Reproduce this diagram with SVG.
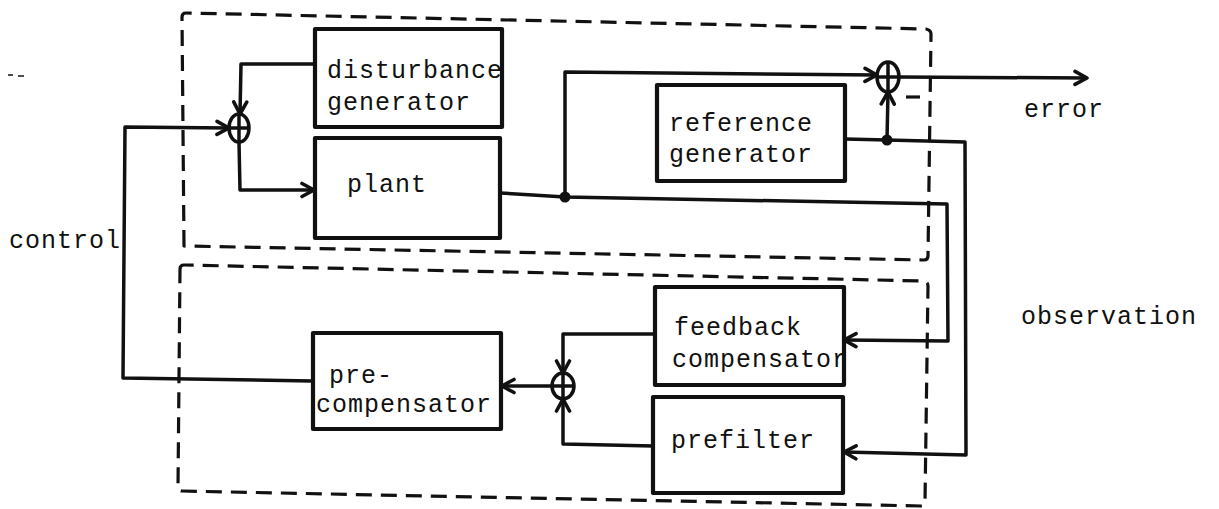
<svg xmlns="http://www.w3.org/2000/svg" width="1219" height="509" viewBox="0 0 1219 509">
<style>
.box{fill:none;stroke:#111;stroke-width:4.2;stroke-linejoin:round}
.dash{fill:none;stroke:#111;stroke-width:3.2;stroke-dasharray:16 9;stroke-linejoin:round}
.ln{fill:none;stroke:#111;stroke-width:3.5;stroke-linejoin:round}
.sum{fill:none;stroke:#111;stroke-width:3.5}
.t{font-family:"Liberation Mono","DejaVu Sans Mono",monospace;font-size:25px;letter-spacing:1px;fill:#111}
</style>
<defs>
<marker id="arr" markerUnits="userSpaceOnUse" markerWidth="18" markerHeight="18" refX="14" refY="8" orient="auto" viewBox="0 0 18 16">
<path d="M2,1.5 L14,8 L2,14.5" fill="none" stroke="#111" stroke-width="3.6" stroke-linecap="round" stroke-linejoin="round"/>
</marker>
</defs>
<rect width="1219" height="509" fill="#fff"/>
<g id="subsystem-boxes">
<path class="dash" d="M184,246 L182,17 Q182,13 186,13 L926,29 Q931,30 931,34 L928,256 Q928,260 924,260 Z"/>
<path class="dash" d="M180,269 Q180,265 184,265 L924,281 Q928,282 928,286 L925,502 Q925,506 921,506 L182,491 Q178,491 178,487 Z"/>
</g>
<g id="disturbance-generator">
<rect class="box" x="315" y="29" width="187" height="98"/>
<text class="t" x="327" y="78">disturbance</text>
<text class="t" x="327" y="110">generator</text>
</g>
<g id="plant">
<rect class="box" x="315" y="138" width="185" height="100"/>
<text class="t" x="347" y="192">plant</text>
</g>
<g id="reference-generator">
<rect class="box" x="657" y="85" width="188" height="96"/>
<text class="t" x="669" y="131">reference</text>
<text class="t" x="669" y="162">generator</text>
</g>
<g id="feedback-compensator">
<rect class="box" x="655" y="287" width="189" height="98"/>
<text class="t" x="674" y="335">feedback</text>
<text class="t" x="672" y="367">compensator</text>
</g>
<g id="prefilter">
<rect class="box" x="653" y="397" width="190" height="96"/>
<text class="t" x="671" y="448">prefilter</text>
</g>
<g id="pre-compensator">
<rect class="box" x="313" y="333" width="188" height="96"/>
<text class="t" x="329" y="383">pre-</text>
<text class="t" x="316" y="412">compensator</text>
</g>
<g id="sum1">
<ellipse class="sum" cx="239" cy="128" rx="10" ry="14"/>
<line class="ln" x1="229" y1="128" x2="249" y2="128"/>
<line class="ln" x1="239" y1="114" x2="239" y2="142"/>
</g>
<g id="sum2">
<ellipse class="sum" cx="888" cy="77" rx="11" ry="15"/>
<line class="ln" x1="888" y1="62" x2="888" y2="92"/>
<line class="ln" x1="877" y1="77" x2="899" y2="77"/>
<line x1="906" y1="97" x2="920" y2="97" stroke="#111" stroke-width="3.2"/>
</g>
<g id="sum3">
<ellipse class="sum" cx="563" cy="386" rx="11" ry="13"/>
<line class="ln" x1="552" y1="386" x2="574" y2="386"/>
<line class="ln" x1="563" y1="373" x2="563" y2="399"/>
</g>
<g id="connectors">
<path class="ln" d="M315,64 L241,64 L240,114" marker-end="url(#arr)"/>
<path class="ln" d="M239,142 L240,190 L314,190" marker-end="url(#arr)"/>
<path class="ln" d="M312,381 L123,378 L125,127 L229,128" marker-end="url(#arr)"/>
<path class="ln" d="M500,193 L565,197 L947,204 L948,341 L844,340" marker-end="url(#arr)"/>
<path class="ln" d="M565,197 L565,72 L877,75" marker-end="url(#arr)"/>
<path class="ln" d="M899,77 L1087,78" marker-end="url(#arr)"/>
<path class="ln" d="M845,139 L887,140 L965,142 L966,455 L844,452" marker-end="url(#arr)"/>
<path class="ln" d="M887,140 L888,92" marker-end="url(#arr)"/>
<path class="ln" d="M655,334 L563,334 L563,373" marker-end="url(#arr)"/>
<path class="ln" d="M653,446 L563,444 L563,399" marker-end="url(#arr)"/>
<path class="ln" d="M552,386 L502,386" marker-end="url(#arr)"/>
<circle cx="565" cy="197" r="5.5" fill="#111"/>
<circle cx="887" cy="140" r="5.5" fill="#111"/>
</g>
<g id="labels">
<text class="t" x="9" y="248">control</text>
<text class="t" x="1024" y="117">error</text>
<text class="t" x="1021" y="324">observation</text>
<line x1="8" y1="75" x2="13" y2="75" stroke="#111" stroke-width="1.5"/>
<line x1="18" y1="76" x2="24" y2="76" stroke="#111" stroke-width="1.5"/>
</g>
</svg>
